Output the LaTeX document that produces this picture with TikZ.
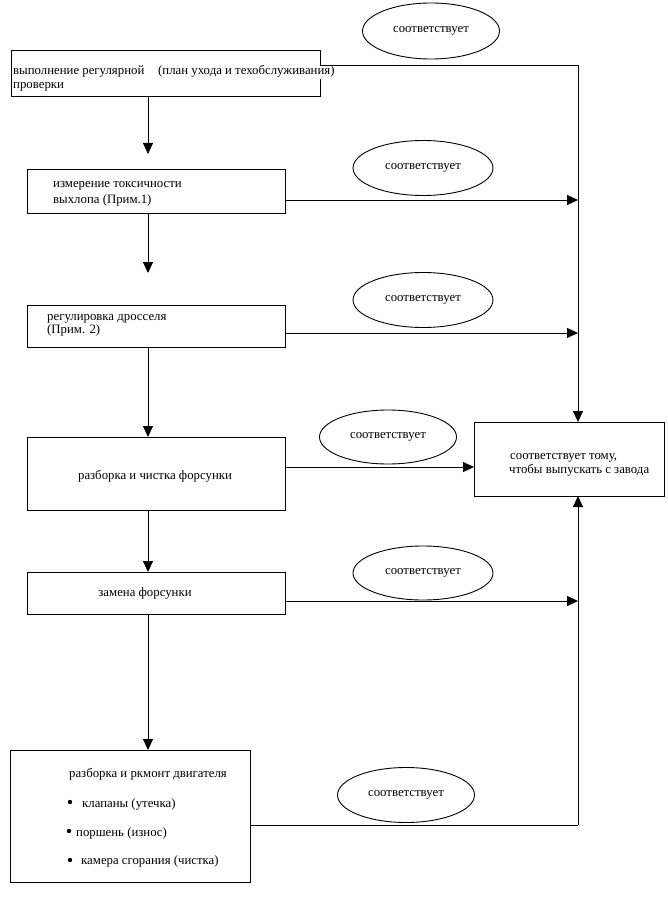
\documentclass[tikz,border=0pt]{standalone}
\usepackage{fontspec}
\setmainfont{Liberation Serif}
\usetikzlibrary{shapes.geometric,arrows.meta}
\begin{document}
\begin{tikzpicture}[x=1pt,y=-1pt,
  box/.style={draw,line width=0.9pt},
  oval/.style={draw,ellipse,line width=0.9pt,inner sep=0pt,font=\fontsize{12.8}{14}\selectfont},
  txt/.style={inner sep=0pt,anchor=base west,font=\fontsize{12.8}{14}\selectfont},
  ctxt/.style={inner sep=0pt,anchor=base,font=\fontsize{12.8}{14}\selectfont},
  conn/.style={line width=0.9pt},
  arr/.style={line width=0.9pt,-{Triangle[length=11pt,width=10pt]}}]
\useasboundingbox (0,0) rectangle (667,920);
% boxes
\draw[box] (11,50) rectangle (320,96);
\draw[box] (27,169) rectangle (285,213);
\draw[box] (27,305) rectangle (285,347);
\draw[box] (27,437) rectangle (285,510);
\draw[box] (27,572) rectangle (285,614);
\draw[box] (10,750) rectangle (250,882);
\draw[box] (474,422) rectangle (664,496);
% texts
\node[txt] (t1a) at (13,75) {выполнение регулярной};
\node[txt] (t1b) at (13,89) {проверки};
\node[txt,fill=white,inner sep=1pt] (t1c) at (157,75) {(план ухода и техобслуживания)};
\node[txt] (t2a) at (53,188) {измерение токсичности};
\node[txt] (t2b) at (53,204) {выхлопа (Прим.1)};
\node[txt] (t3a) at (47,320) {регулировка дросселя};
\node[txt] (t3b) at (47,333) {(Прим. 2)};
\node[ctxt] (t4) at (155,479) {разборка и чистка форсунки};
\node[ctxt] (t5) at (145,596) {замена форсунки};
\node[txt] (tfa) at (510,459) {соответствует тому,};
\node[txt] (tfb) at (509,473) {чтобы выпускать с завода};
\node[ctxt] (t6) at (148,777) {разборка и ркмонт двигателя};
\node[txt] (t6a) at (82,807) {клапаны (утечка)};
\node[txt] (t6b) at (76,836) {поршень (износ)};
\node[txt] (t6c) at (81,864) {камера сгорания (чистка)};
\fill (70,802) circle (2.2pt);
\fill (69,831) circle (2.2pt);
\fill (70,860) circle (2.2pt);
% ellipses
\node[oval,minimum width=137pt,minimum height=56pt] (e1) at (431,31) {соответствует};
\node[oval,minimum width=140pt,minimum height=55pt] (e2) at (423,168) {соответствует};
\node[oval,minimum width=140pt,minimum height=55pt] (e3) at (423,300) {соответствует};
\node[oval,minimum width=137pt,minimum height=54pt] (e4) at (388,437) {соответствует};
\node[oval,minimum width=140pt,minimum height=54pt] (e5) at (423,573) {соответствует};
\node[oval,minimum width=137pt,minimum height=55pt] (e6) at (406,795) {соответствует};
% vertical arrows
\draw[arr] (148,96) -- (148,154);
\draw[arr] (148,213) -- (148,273);
\draw[arr] (148,347) -- (148,437);
\draw[arr] (148,510) -- (148,572);
\draw[arr] (148,614) -- (148,750);
% right side
\draw[conn] (320,65) -- (578,65);
\draw[arr] (578,65) -- (578,422);
\draw[arr] (285,200) -- (578,200);
\draw[arr] (285,333) -- (578,333);
\draw[arr] (285,467) -- (474,467);
\draw[arr] (285,601) -- (578,601);
\draw[conn] (250,825) -- (578,825);
\draw[arr] (578,825) -- (578,496);
\end{tikzpicture}
\end{document}
